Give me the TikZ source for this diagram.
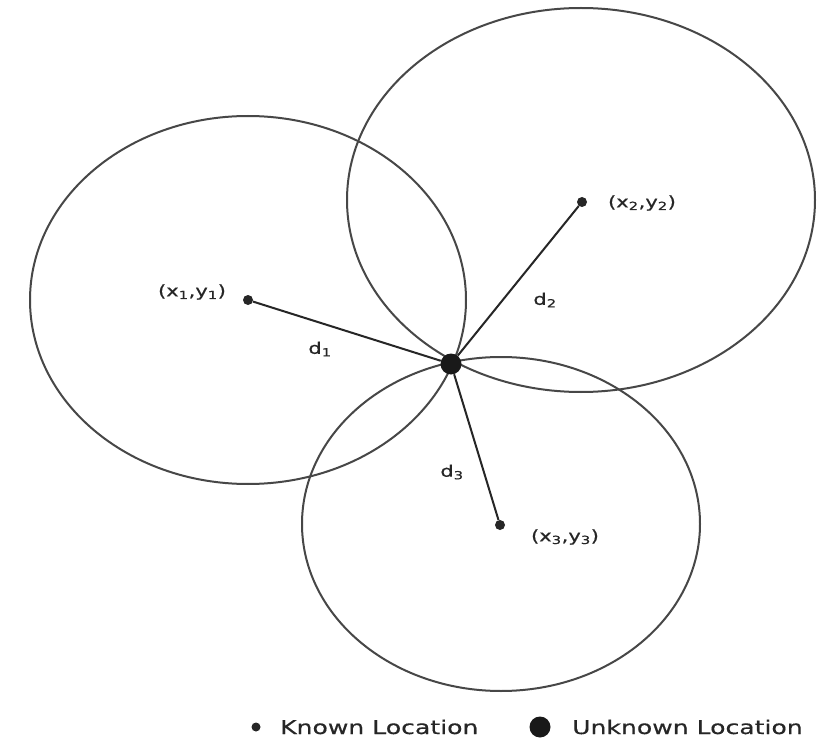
\documentclass[tikz,border=0pt]{standalone}
\usepackage{fontspec}
\newfontfamily\lblfont[FakeStretch=1.32,FakeBold=0.5]{DejaVu Sans}
\begin{document}
\begin{tikzpicture}[x=1pt,y=-1pt,
  ring/.style={draw=black!72, line width=2pt},
  link/.style={draw=black!85, line width=2pt},
  known/.style={circle, fill=black!85, inner sep=0pt, minimum size=10pt},
  unknown/.style={circle, fill=black!90, inner sep=0pt, minimum size=21pt},
  lbl/.style={font=\lblfont\fontsize{16}{18}\selectfont, text=black!85, inner sep=1pt},
  leg/.style={font=\lblfont\fontsize{19}{22}\selectfont, text=black!85, inner sep=0pt, anchor=base west}]
\path[use as bounding box, fill=white] (0,0) rectangle (831,741);

% rings
\draw[ring] (248,300) ellipse [x radius=218pt, y radius=184pt];
\draw[ring] (581,200) ellipse [x radius=234pt, y radius=192pt];
\draw[ring] (501,524) ellipse [x radius=199pt, y radius=167pt];

% points
\node[known] (k1) at (248,300) {};
\node[known] (k2) at (582,202) {};
\node[known] (k3) at (500,525) {};
\node[unknown] (u) at (451,364) {};

% connectors
\draw[link] (k1) -- (u);
\draw[link] (k2) -- (u);
\draw[link] (k3) -- (u);

% labels
\node[lbl] (l1) at (192,292) {(x\textsubscript{1},y\textsubscript{1})};
\node[lbl] (l2) at (642,203) {(x\textsubscript{2},y\textsubscript{2})};
\node[lbl] (l3) at (565,537) {(x\textsubscript{3},y\textsubscript{3})};
\node[lbl] (d1) at (320,349) {d\textsubscript{1}};
\node[lbl] (d2) at (545,300) {d\textsubscript{2}};
\node[lbl] (d3) at (452,472) {d\textsubscript{3}};

% legend
\node[known, minimum size=9pt] (lk) at (256,727) {};
\node[leg] (lkt) at (280,734) {Known Location};
\node[unknown] (lu) at (540,727) {};
\node[leg] (lut) at (572,734) {Unknown Location};
\end{tikzpicture}
\end{document}
